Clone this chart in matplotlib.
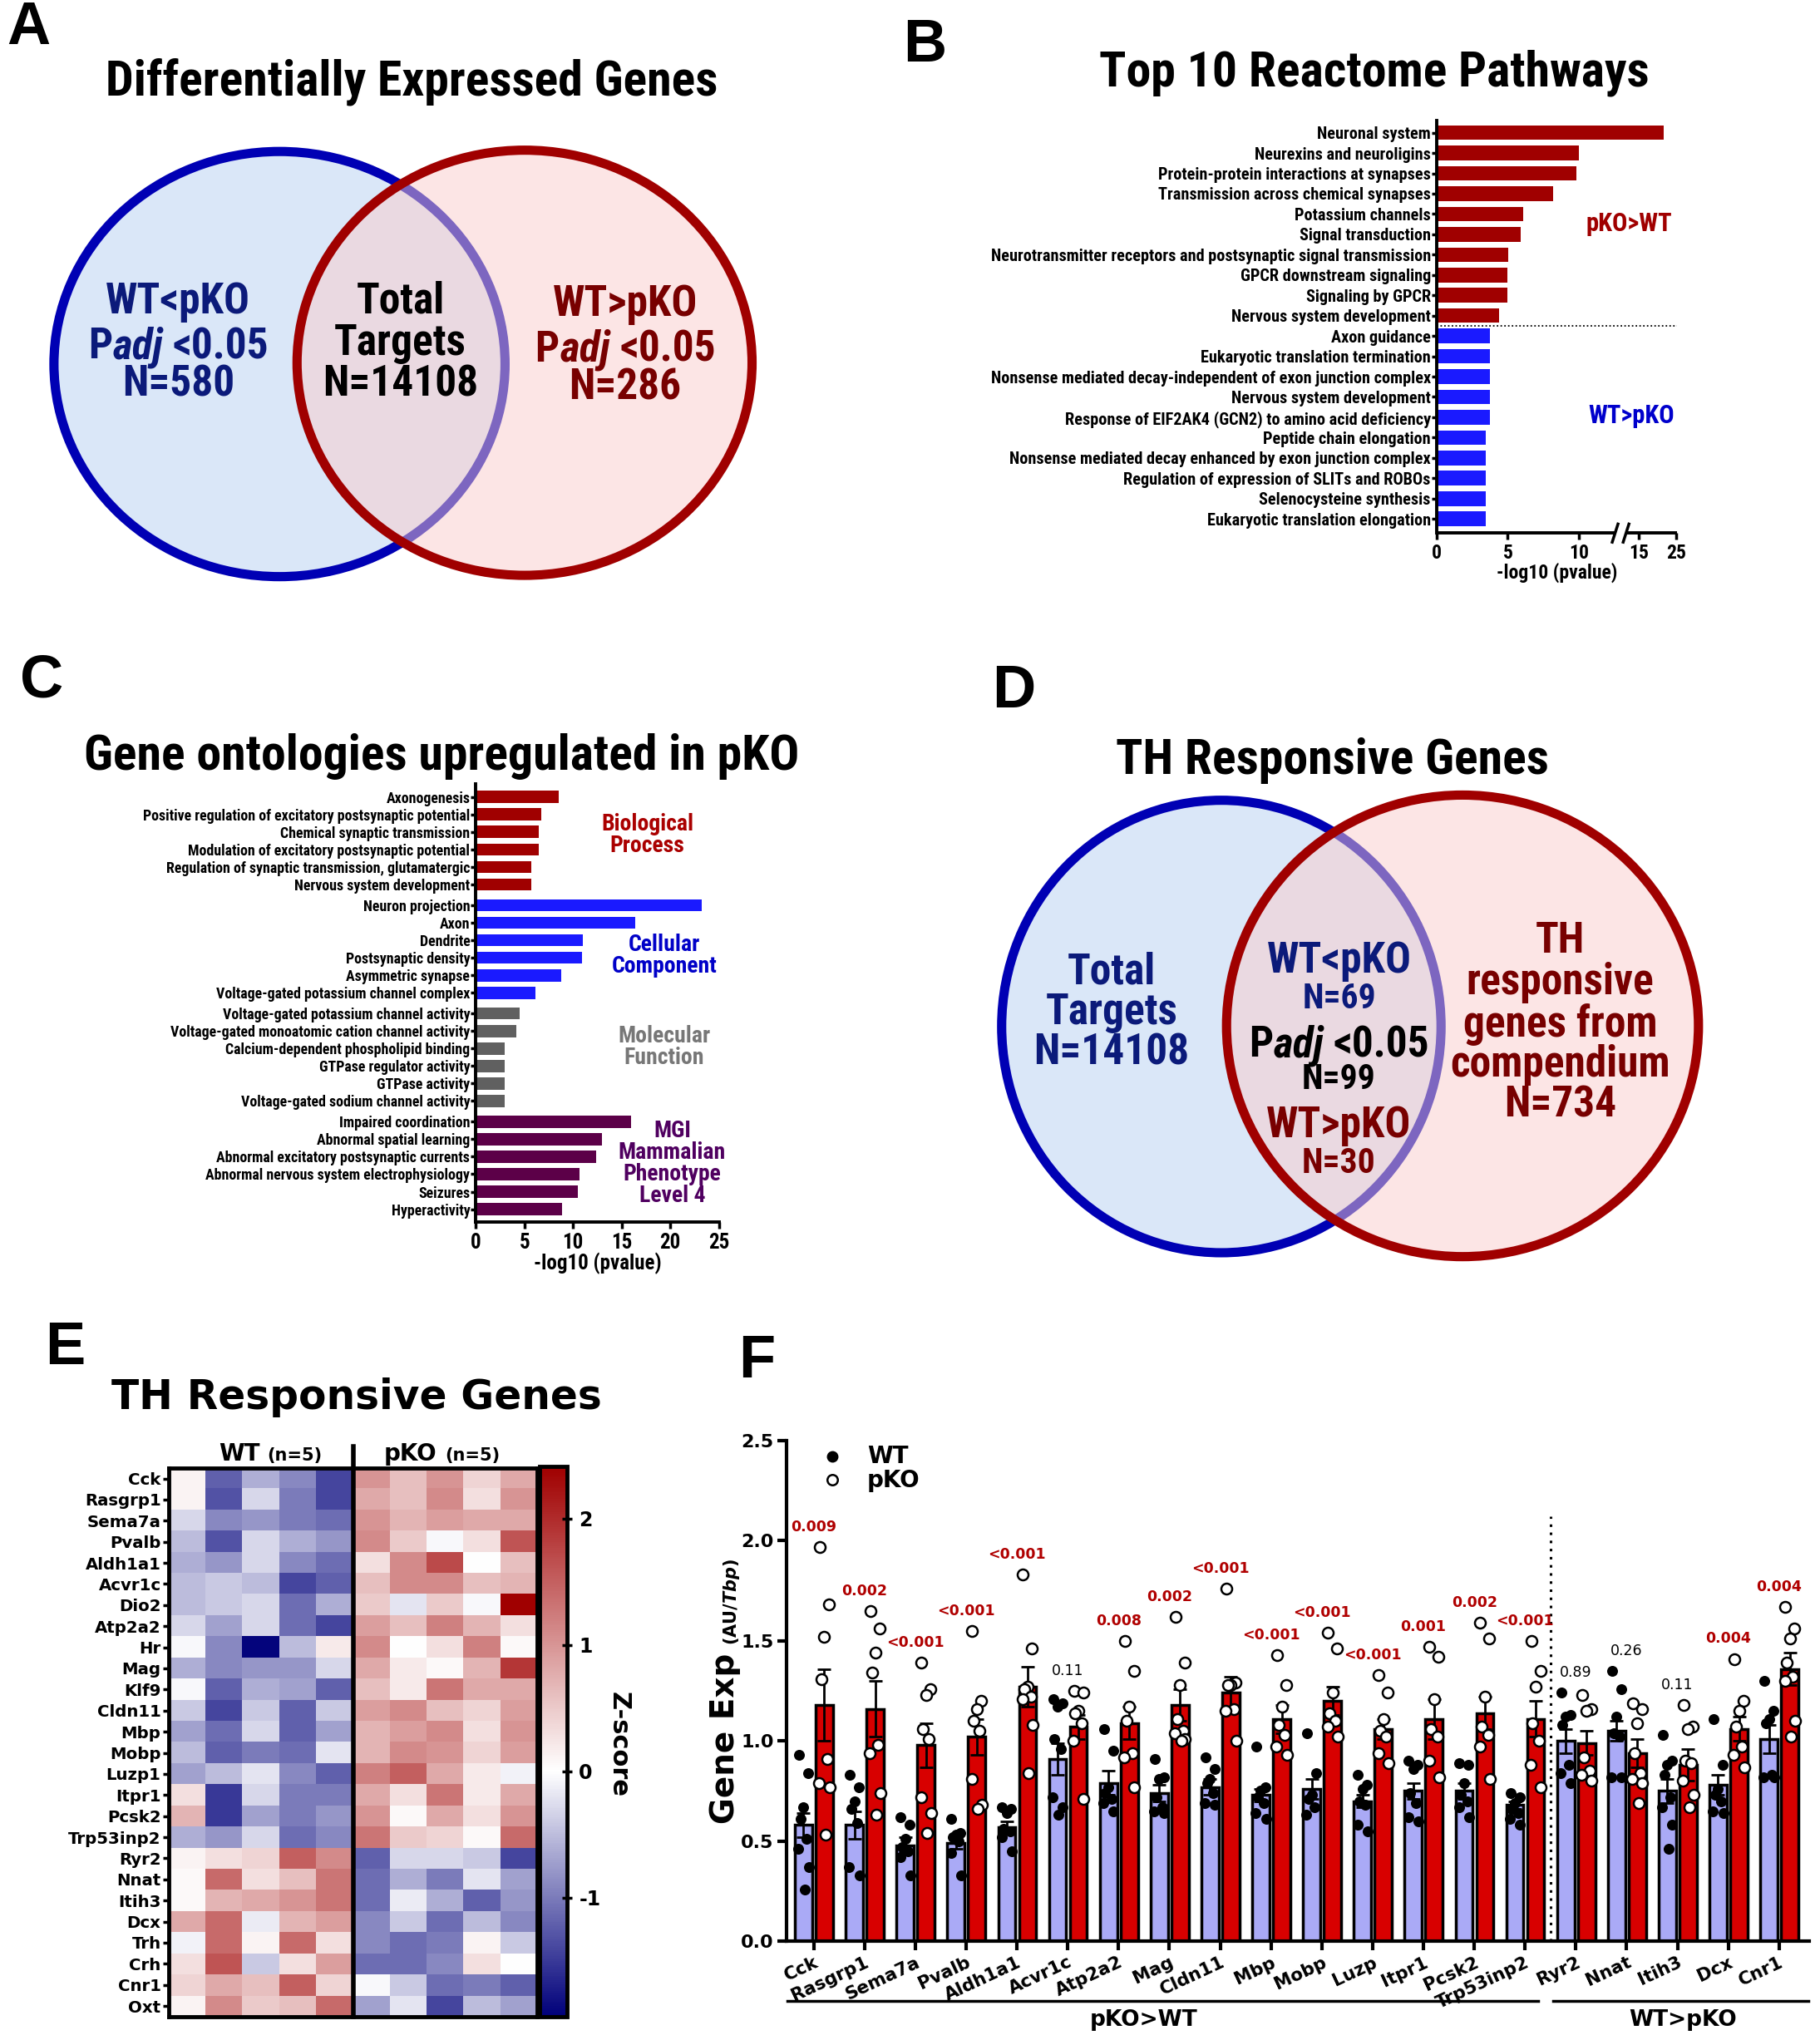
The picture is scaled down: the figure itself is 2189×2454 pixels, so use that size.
import numpy as np
import matplotlib
matplotlib.use('Agg')
import matplotlib.pyplot as plt
from matplotlib.patches import Ellipse
from matplotlib.colors import LinearSegmentedColormap, Normalize
from matplotlib import font_manager as fm

plt.rcParams['axes.unicode_minus'] = False
plt.rcParams['mathtext.fontset'] = 'custom'
plt.rcParams['mathtext.it'] = 'DejaVu Sans:italic:bold'
plt.rcParams['mathtext.rm'] = 'DejaVu Sans:bold'


def pick(cands):
    for c in cands:
        try:
            fm.findfont(fm.FontProperties(family=c), fallback_to_default=False)
            return c
        except Exception:
            pass
    return 'DejaVu Sans'


NARROW = pick(['Liberation Sans Narrow', 'Roboto Condensed', 'DejaVu Sans Condensed'])
ARIAL = pick(['Liberation Sans', 'Arial'])
NS = 1.0
if NARROW == 'DejaVu Sans':
    NARROW = ARIAL
    NS = 0.82
WIDE = 'DejaVu Sans'

# ---------------- data ----------------
# Panel A
deg_up_n = 580
deg_down_n = 286
total_targets_n = 14108
# Panel D
th_compendium_n = 734
th_overlap_n = 99
th_up_n = 69
th_down_n = 30

# Panel B
b_terms = ['Neuronal system', 'Neurexins and neuroligins', 'Protein-protein interactions at synapses',
           'Transmission across chemical synapses', 'Potassium channels', 'Signal transduction',
           'Neurotransmitter receptors and postsynaptic signal transmission', 'GPCR downstream signaling',
           'Signaling by GPCR', 'Nervous system development',
           'Axon guidance', 'Eukaryotic translation termination',
           'Nonsense mediated decay-independent of exon junction complex', 'Nervous system development',
           'Response of EIF2AK4 (GCN2) to amino acid deficiency', 'Peptide chain elongation',
           'Nonsense mediated decay enhanced by exon junction complex',
           'Regulation of expression of SLITs and ROBOs', 'Selenocysteine synthesis',
           'Eukaryotic translation elongation']
b_vals = [21.7, 10.0, 9.8, 8.2, 6.1, 5.9, 5.05, 4.95, 4.95, 4.37,
          3.75, 3.75, 3.75, 3.72, 3.72, 3.48, 3.48, 3.48, 3.48, 3.48]
b_groups = ['pKO>WT'] * 10 + ['WT>pKO'] * 10

# Panel C
c_terms = ['Axonogenesis', 'Positive regulation of excitatory postsynaptic potential',
           'Chemical synaptic transmission', 'Modulation of excitatory postsynaptic potential',
           'Regulation of synaptic transmission, glutamatergic', 'Nervous system development',
           'Neuron projection', 'Axon', 'Dendrite', 'Postsynaptic density', 'Asymmetric synapse',
           'Voltage-gated potassium channel complex',
           'Voltage-gated potassium channel activity', 'Voltage-gated monoatomic cation channel activity',
           'Calcium-dependent phospholipid binding', 'GTPase regulator activity', 'GTPase activity',
           'Voltage-gated sodium channel activity',
           'Impaired coordination', 'Abnormal spatial learning', 'Abnormal excitatory postsynaptic currents',
           'Abnormal nervous system electrophysiology', 'Seizures', 'Hyperactivity']
c_vals = [8.55, 6.7, 6.5, 6.5, 5.7, 5.7,
          23.2, 16.4, 11.0, 10.9, 8.8, 6.1,
          4.5, 4.2, 3.0, 3.0, 3.0, 3.0,
          16.0, 13.0, 12.4, 10.7, 10.5, 8.9]
c_groups = [0] * 6 + [1] * 6 + [2] * 6 + [3] * 6
c_group_names = ['Biological\nProcess', 'Cellular\nComponent', 'Molecular\nFunction',
                 'MGI\nMammalian\nPhenotype\nLevel 4']

# Panel E
e_genes = ['Cck', 'Rasgrp1', 'Sema7a', 'Pvalb', 'Aldh1a1', 'Acvr1c', 'Dio2', 'Atp2a2', 'Hr', 'Mag',
           'Klf9', 'Cldn11', 'Mbp', 'Mobp', 'Luzp1', 'Itpr1', 'Pcsk2', 'Trp53inp2', 'Ryr2', 'Nnat',
           'Itih3', 'Dcx', 'Trh', 'Crh', 'Cnr1', 'Oxt']
z_wt = [
    [0.1, -1.2, -0.6, -0.9, -1.4],
    [0.1, -1.3, -0.3, -1.0, -1.4],
    [-0.3, -0.9, -0.8, -1.0, -1.1],
    [-0.5, -1.3, -0.3, -0.6, -0.8],
    [-0.6, -0.8, -0.3, -0.9, -1.1],
    [-0.5, -0.4, -0.5, -1.4, -1.2],
    [-0.5, -0.4, -0.3, -1.1, -0.6],
    [-0.3, -0.7, -0.3, -1.1, -1.4],
    [-0.05, -0.9, -1.9, -0.5, 0.2],
    [-0.6, -0.9, -0.8, -0.8, -0.3],
    [-0.05, -1.2, -0.6, -0.7, -1.2],
    [-0.4, -1.4, -0.4, -1.2, -0.4],
    [-0.7, -1.1, -0.3, -1.2, -0.7],
    [-0.5, -1.2, -1.0, -1.1, -0.2],
    [-0.7, -0.5, -0.2, -0.9, -1.2],
    [0.3, -1.5, -0.3, -1.0, -1.0],
    [0.7, -1.5, -0.7, -1.0, -0.8],
    [-0.6, -0.8, -0.3, -1.1, -0.9],
    [0.1, 0.3, 0.4, 1.5, 1.1],
    [0.05, 1.4, 0.3, 0.6, 1.3],
    [0.05, 0.7, 0.8, 1.0, 1.3],
    [0.8, 1.4, -0.15, 0.7, 0.9],
    [-0.1, 1.4, 0.1, 1.4, 0.3],
    [0.3, 1.6, -0.4, 0.3, 0.9],
    [0.4, 0.8, 0.6, 1.5, 0.4],
    [0.1, 1.1, 0.5, 0.6, 1.4],
]
z_ko = [
    [1.0, 0.6, 1.0, 0.4, 0.8],
    [0.8, 0.6, 1.1, 0.3, 1.0],
    [1.0, 0.7, 0.9, 0.8, 0.8],
    [1.1, 0.5, -0.05, 0.3, 1.6],
    [0.3, 1.1, 1.7, 0.0, 0.6],
    [0.6, 1.1, 1.1, 0.6, 0.7],
    [0.5, -0.2, 0.5, -0.05, 2.4],
    [0.9, 0.6, 1.2, 0.7, 0.3],
    [1.1, 0.0, 0.3, 1.2, 0.05],
    [0.8, 0.2, 0.05, 0.7, 1.9],
    [0.6, 0.2, 1.3, 0.8, 0.8],
    [0.9, 1.1, 0.6, 0.4, 0.9],
    [0.7, 0.9, 1.1, 0.3, 1.0],
    [0.7, 1.1, 1.0, 0.4, 0.9],
    [1.2, 1.5, 0.8, 0.2, -0.1],
    [0.8, 0.3, 1.3, 0.2, 0.8],
    [1.0, 0.05, 0.8, 0.3, 1.0],
    [1.3, 0.5, 0.4, 0.05, 1.4],
    [-1.2, -0.3, -0.3, -0.4, -1.4],
    [-1.1, -0.6, -1.0, -0.2, -0.7],
    [-1.1, -0.15, -0.6, -1.2, -0.8],
    [-0.9, -0.4, -1.1, -0.5, -0.9],
    [-0.9, -1.1, -1.0, 0.1, -0.4],
    [-1.1, -1.1, -0.9, 0.3, 0.0],
    [-0.05, -0.4, -1.1, -1.0, -1.2],
    [-0.7, -0.2, -1.4, -0.5, -0.7],
]
z_min, z_max = -1.94, 2.41

# Panel F
f_genes = ['Cck', 'Rasgrp1', 'Sema7a', 'Pvalb', 'Aldh1a1', 'Acvr1c', 'Atp2a2', 'Mag', 'Cldn11', 'Mbp',
           'Mobp', 'Luzp', 'Itpr1', 'Pcsk2', 'Trp53inp2', 'Ryr2', 'Nnat', 'Itih3', 'Dcx', 'Cnr1']
wt_mean = [0.58, 0.58, 0.48, 0.49, 0.57, 0.91, 0.79, 0.74, 0.77, 0.73,
           0.76, 0.70, 0.75, 0.75, 0.68, 1.00, 1.05, 0.75, 0.78, 1.01]
wt_sem = [0.06, 0.07, 0.04, 0.03, 0.03, 0.08, 0.06, 0.04, 0.04, 0.03,
          0.05, 0.03, 0.04, 0.04, 0.02, 0.06, 0.05, 0.06, 0.05, 0.07]
ko_mean = [1.18, 1.16, 0.98, 1.02, 1.27, 1.07, 1.09, 1.18, 1.24, 1.11,
           1.20, 1.06, 1.11, 1.14, 1.11, 0.99, 0.94, 0.88, 1.06, 1.36]
ko_sem = [0.18, 0.14, 0.11, 0.09, 0.10, 0.06, 0.08, 0.08, 0.08, 0.07,
          0.07, 0.05, 0.10, 0.08, 0.09, 0.06, 0.07, 0.08, 0.06, 0.08]
wt_pts = [
    [0.93, 0.84, 0.67, 0.61, 0.51, 0.46, 0.37, 0.26],
    [0.83, 0.77, 0.70, 0.66, 0.59, 0.37, 0.33],
    [0.62, 0.58, 0.51, 0.47, 0.45, 0.42, 0.33],
    [0.61, 0.54, 0.53, 0.52, 0.50, 0.44, 0.33],
    [0.67, 0.66, 0.64, 0.56, 0.55, 0.52, 0.45],
    [1.21, 1.19, 1.17, 1.01, 0.96, 0.72, 0.67, 0.63],
    [1.06, 0.95, 0.77, 0.74, 0.71, 0.69, 0.65],
    [0.91, 0.82, 0.81, 0.72, 0.67, 0.65, 0.64],
    [0.92, 0.86, 0.81, 0.79, 0.74, 0.69, 0.68],
    [0.97, 0.77, 0.75, 0.72, 0.69, 0.64, 0.61],
    [1.04, 0.84, 0.73, 0.71, 0.67, 0.63],
    [0.83, 0.78, 0.76, 0.70, 0.68, 0.58, 0.55],
    [0.90, 0.88, 0.86, 0.74, 0.69, 0.62, 0.60],
    [0.89, 0.88, 0.79, 0.73, 0.70, 0.67, 0.62],
    [0.74, 0.72, 0.69, 0.66, 0.64, 0.61, 0.58],
    [1.24, 1.13, 1.12, 1.08, 0.88, 0.84, 0.79],
    [1.35, 1.26, 1.12, 1.04, 1.02, 0.82, 0.82],
    [1.03, 0.90, 0.88, 0.83, 0.72, 0.67, 0.58, 0.46],
    [1.11, 0.88, 0.76, 0.73, 0.70, 0.65, 0.64],
    [1.30, 1.15, 1.11, 1.09, 0.83, 0.82, 0.82],
]
ko_pts = [
    [1.97, 1.68, 1.52, 1.31, 0.91, 0.79, 0.77, 0.53],
    [1.65, 1.56, 1.44, 1.34, 0.98, 0.94, 0.74, 0.63],
    [1.39, 1.26, 1.23, 1.06, 1.01, 0.72, 0.64, 0.54],
    [1.55, 1.20, 1.16, 1.10, 1.05, 0.81, 0.68, 0.66],
    [1.83, 1.46, 1.27, 1.26, 1.22, 1.21, 1.08, 0.84],
    [1.25, 1.24, 1.15, 1.14, 1.09, 1.00, 0.71],
    [1.50, 1.35, 1.17, 1.10, 0.94, 0.92, 0.77],
    [1.62, 1.39, 1.28, 1.11, 1.05, 1.04, 1.01, 1.00],
    [1.76, 1.29, 1.28, 1.28, 1.16, 1.15, 1.00],
    [1.43, 1.28, 1.17, 1.08, 1.03, 0.97, 0.93],
    [1.54, 1.46, 1.24, 1.14, 1.10, 1.07, 1.02],
    [1.33, 1.24, 1.11, 1.05, 1.02, 0.94, 0.89],
    [1.47, 1.42, 1.21, 1.06, 1.02, 0.90, 0.82],
    [1.59, 1.51, 1.22, 1.07, 1.03, 0.97, 0.81],
    [1.50, 1.35, 1.27, 1.09, 1.00, 0.88, 0.77],
    [1.23, 1.16, 1.15, 0.92, 0.85, 0.83, 0.80],
    [1.19, 1.16, 1.09, 0.94, 0.84, 0.81, 0.79, 0.69],
    [1.18, 1.07, 1.06, 0.90, 0.89, 0.80, 0.73, 0.67],
    [1.41, 1.20, 1.15, 1.07, 0.97, 0.93, 0.87],
    [1.67, 1.56, 1.51, 1.39, 1.32, 1.30, 1.10, 1.02],
]
p_labels = ['0.009', '0.002', '<0.001', '<0.001', '<0.001', '0.11', '0.008', '0.002', '<0.001', '<0.001',
            '<0.001', '<0.001', '0.001', '0.002', '<0.001', '0.89', '0.26', '0.11', '0.004', '0.004']
n_up_genes = 15  # pKO>WT group size

# ---------------- colours ----------------
NAVY_T = '#0b1a7a'
DRED_T = '#780000'
BLUE_E = '#0000b4'
RED_E = '#a00000'

# ---------------- figure ----------------
fig = plt.figure(figsize=(21.89, 24.54), dpi=100)
W, H = 1400.0, 1569.0
PX = W / 2189.0


def rect(l, t, r, b):
    return [l / W, 1 - b / H, (r - l) / W, (b - t) / H]


ov = fig.add_axes([0, 0, 1, 1])
ov.set_xlim(0, W)
ov.set_ylim(H, 0)
ov.axis('off')
renderer = fig.canvas.get_renderer()


def rich(x, yb, parts, ha='center', **common):
    """parts: (string, props, gap_before) laid out on one baseline yb."""
    objs, widths, gaps = [], [], []
    for s, kw, g in parts:
        t = ov.text(0, 0, s, ha='left', va='baseline', **{**common, **kw})
        w = t.get_window_extent(renderer=renderer).width * PX
        objs.append(t)
        widths.append(w)
        gaps.append(g)
    total = sum(widths) + sum(gaps[1:])
    cur = x - total / 2 if ha == 'center' else x
    for i, (t, w) in enumerate(zip(objs, widths)):
        if i > 0:
            cur += gaps[i]
        t.set_position((cur, yb))
        cur += w


# panel letters
for lab, x, y in [('A', 22, 22), ('B', 711, 35), ('C', 32, 524), ('D', 780, 532), ('E', 50, 1037),
                  ('F', 582, 1047)]:
    ov.text(x, y, lab, fontsize=52, fontweight='bold', family=ARIAL, ha='center', va='center')

TS = 43 * NS
ttl = dict(fontsize=TS, fontweight='bold', family=NARROW, ha='center', va='center')
ov.text(317, 63, 'Differentially Expressed Genes', **ttl)
ov.text(1057, 56, 'Top 10 Reactome Pathways', **ttl)
ov.text(340, 582, 'Gene ontologies upregulated in pKO', **ttl)
ov.text(1025, 585, 'TH Responsive Genes', **ttl)
ov.text(274, 1075, 'TH Responsive Genes', fontsize=35, fontweight='bold', family=WIDE, ha='center',
        va='center')


def venn(cl, wl, hl, cr, wr, hr):
    ov.add_patch(Ellipse(cl, wl, hl, facecolor='#dae7f8', edgecolor=BLUE_E, lw=8, zorder=1))
    ov.add_patch(Ellipse(cr, wr, hr, facecolor=(0.98, 0.80, 0.80, 0.5), edgecolor='none', zorder=2))
    ov.add_patch(Ellipse(cr, wr, hr, facecolor='none', edgecolor=RED_E, lw=8, zorder=3))


VS = 37 * NS
vt = dict(fontsize=VS, fontweight='bold', family=NARROW, ha='center', va='center', zorder=5)


def padj(x, yc, color):
    rich(x, yc + 0.32 * VS, [('P', {}, 0), ('adj', {'fontstyle': 'italic'}, 0.5), ('<0.05', {}, 7)],
         fontsize=VS, fontweight='bold', family=NARROW, color=color, zorder=5)


# Panel A venn
venn((215, 280), 347, 327, (403.5, 279), 350, 327)
ov.text(137, 232, 'WT<pKO', color=NAVY_T, **vt)
padj(137, 264, NAVY_T)
ov.text(137, 296, f'N={deg_up_n}', color=NAVY_T, **vt)
ov.text(308, 232, 'Total', color='k', **vt)
ov.text(308, 264, 'Targets', color='k', **vt)
ov.text(308, 296, f'N={total_targets_n}', color='k', **vt)
ov.text(481, 234, 'WT>pKO', color=DRED_T, **vt)
padj(481, 266, DRED_T)
ov.text(481, 298, f'N={deg_down_n}', color=DRED_T, **vt)

# Panel D venn
venn((939.5, 789.5), 338, 348, (1125, 789), 363, 355)
ov.text(855, 748, 'Total', color=NAVY_T, **vt)
ov.text(855, 779, 'Targets', color=NAVY_T, **vt)
ov.text(855, 810, f'N={total_targets_n}', color=NAVY_T, **vt)
vs2 = dict(vt)
vs2['fontsize'] = 30 * NS
ov.text(1030, 739, 'WT<pKO', color=NAVY_T, **vt)
ov.text(1030, 768, f'N={th_up_n}', color=NAVY_T, **vs2)
padj(1030, 801, 'k')
ov.text(1030, 830, f'N={th_overlap_n}', color='k', **vs2)
ov.text(1030, 866, 'WT>pKO', color=DRED_T, **vt)
ov.text(1030, 895, f'N={th_down_n}', color=DRED_T, **vs2)
for yy, s in zip([724, 756, 788, 819, 850],
                 ['TH', 'responsive', 'genes from', 'compendium', f'N={th_compendium_n}']):
    ov.text(1200, yy, s, color=DRED_T, **vt)

# ---------------- Panel B ----------------
axb = fig.add_axes(rect(1105, 93, 1290, 410), facecolor='none')
kx = np.array([-100.0, 0.0, 12.5, 15.0, 25.0, 100.0])
ku = np.array([-100.0, 0.0, 12.5, 14.2, 16.8, 16.8 + 75 * 0.26])


def fwd(x):
    return np.interp(x, kx, ku)


def inv(u):
    return np.interp(u, ku, kx)


axb.set_xscale('function', functions=(fwd, inv))
yb = np.arange(len(b_terms))
colb = ['#a00000' if g == 'pKO>WT' else '#1a1aff' for g in b_groups]
axb.barh(yb, b_vals, height=0.72, color=colb, zorder=2)
axb.set_xlim(0, 25.3)
axb.set_ylim(19.7, -0.58)
axb.set_yticks(yb)
axb.set_yticklabels(b_terms, fontsize=14.6 * NS, fontweight='bold', family=NARROW)
axb.set_xticks([0, 5, 10, 15, 25])
axb.set_xticklabels(['0', '5', '10', '15', '25'], fontsize=17 * NS, fontweight='bold', family=NARROW)
axb.set_xlabel('-log10 (pvalue)', fontsize=17 * NS, fontweight='bold', family=NARROW, labelpad=0)
for s in ['top', 'right', 'bottom']:
    axb.spines[s].set_visible(False)
axb.spines['left'].set_linewidth(2.8)
axb.tick_params(axis='y', length=4, width=2.5, pad=1)
axb.tick_params(axis='x', length=6, width=2.5, pad=3)
axb.axhline(9.5, color='k', lw=1.3, ls=(0, (1, 1.5)), xmin=0, xmax=1.0, clip_on=False)
tr = axb.get_xaxis_transform()
axb.plot([0, 12.55], [0, 0], color='k', lw=2.8, transform=tr, clip_on=False, solid_capstyle='butt')
axb.plot([13.68, 25.3], [0, 0], color='k', lw=2.8, transform=tr, clip_on=False, solid_capstyle='butt')
u0, u1 = fwd(0), fwd(25.3)
for xb in [12.55, 13.68]:
    xfr = (fwd(xb) - u0) / (u1 - u0)
    axb.plot([xfr - 0.012, xfr + 0.012], [-0.022, 0.022], color='k', lw=2.5, transform=axb.transAxes,
             clip_on=False)
ov.text(1253, 172, 'pKO>WT', color='#a00000', fontsize=22 * NS, fontweight='bold', family=NARROW,
        ha='center', va='center')
ov.text(1255, 320, 'WT>pKO', color='#0000cc', fontsize=22 * NS, fontweight='bold', family=NARROW,
        ha='center', va='center')

# ---------------- Panel C ----------------
axc = fig.add_axes(rect(366, 603, 553, 940), facecolor='none')
yc = np.arange(len(c_terms)) + np.array(c_groups) * 0.18
c_bar_cols = ['#a00000', '#1a1aff', '#606060', '#5c0048']
axc.barh(yc, c_vals, height=0.7, color=[c_bar_cols[g] for g in c_groups], zorder=2)
axc.set_xlim(0, 25)
axc.set_ylim(yc[-1] + 0.74, -0.74)
axc.set_yticks(yc)
axc.set_yticklabels(c_terms, fontsize=12.9 * NS, fontweight='bold', family=NARROW)
axc.set_xticks([0, 5, 10, 15, 20, 25])
axc.set_xticklabels(['0', '5', '10', '15', '20', '25'], fontsize=18 * NS, fontweight='bold', family=NARROW)
axc.set_xlabel('-log10 (pvalue)', fontsize=18 * NS, fontweight='bold', family=NARROW, labelpad=0)
for s in ['top', 'right']:
    axc.spines[s].set_visible(False)
for s in ['left', 'bottom']:
    axc.spines[s].set_linewidth(2.8)
axc.tick_params(axis='y', length=4, width=2.5, pad=1)
axc.tick_params(axis='x', length=6, width=2.5, pad=3)
c_lab_cols = ['#aa0000', '#0000c8', '#777777', '#500060']
c_lab_pos = [(498, 642), (511, 735), (511, 805), (517, 895)]
for name, col, (x, y) in zip(c_group_names, c_lab_cols, c_lab_pos):
    ov.text(x, y, name, color=col, fontsize=20 * NS, fontweight='bold', family=NARROW, ha='center',
            va='center', linespacing=0.95)

# ---------------- Panel E ----------------
axe = fig.add_axes(rect(130, 1129, 413, 1551), facecolor='none')
Z = np.hstack([np.array(z_wt), np.array(z_ko)])
cmap = LinearSegmentedColormap.from_list(
    'z', [(0.0, '#00007a'), (-z_min / (z_max - z_min), '#ffffff'), (1.0, '#a00000')])
im = axe.imshow(Z, cmap=cmap, norm=Normalize(z_min, z_max), aspect='auto', interpolation='nearest')
axe.plot([4.5, 4.5], [len(e_genes) - 0.5, -1.5], color='k', lw=4, clip_on=False)
axe.set_xlim(-0.5, Z.shape[1] - 0.5)
axe.set_ylim(len(e_genes) - 0.5, -0.5)
axe.set_xticks([])
axe.set_yticks(np.arange(len(e_genes)))
axe.set_yticklabels(e_genes, fontsize=14.2, fontweight='bold', family=WIDE)
axe.tick_params(axis='y', length=5, width=2.5, pad=2)
for s in axe.spines.values():
    s.set_linewidth(3.5)
cax = fig.add_axes(rect(415, 1128, 436, 1551))
cb = fig.colorbar(im, cax=cax, ticks=[-1, 0, 1, 2])
cb.outline.set_linewidth(3.5)
cax.tick_params(labelsize=17, width=2.5, length=9, direction='inout', pad=6)
for t in cax.get_yticklabels():
    t.set_fontweight('bold')
    t.set_family(WIDE)
ov.text(476, 1342, 'Z-score', rotation=270, fontsize=22, fontweight='bold', family=WIDE, ha='center',
        va='center')
rich(208, 1117 + 0.32 * 20, [('WT', {'fontsize': 20}, 0), ('(n=5)', {'fontsize': 15}, 6)],
     fontweight='bold', family=WIDE)
rich(340, 1117 + 0.32 * 20, [('pKO', {'fontsize': 20}, 0), ('(n=5)', {'fontsize': 15}, 6)],
     fontweight='bold', family=WIDE)

# ---------------- Panel F ----------------
axf = fig.add_axes(rect(605, 1108, 1392, 1493), facecolor='none')
xf = np.arange(len(f_genes))
bw = 0.34
dx_wt, dx_ko = -0.2, 0.21
axf.bar(xf + dx_wt, wt_mean, width=bw, color='#aaaaf6', edgecolor='k', linewidth=2.5, zorder=2)
axf.bar(xf + dx_ko, ko_mean, width=bw, color='#d80000', edgecolor='k', linewidth=2.5, zorder=2)
axf.errorbar(xf + dx_wt, wt_mean, yerr=wt_sem, fmt='none', ecolor='k', elinewidth=2, capsize=6, capthick=2,
             zorder=3)
axf.errorbar(xf + dx_ko, ko_mean, yerr=ko_sem, fmt='none', ecolor='k', elinewidth=2, capsize=6, capthick=2,
             zorder=3)
jit = np.array([-0.09, 0.09, 0.0, -0.06, 0.06, -0.1, 0.1, 0.02])
for i in range(len(f_genes)):
    w = np.array(wt_pts[i])
    k = np.array(ko_pts[i])
    axf.scatter(i + dx_wt + jit[:len(w)], w, s=88, color='k', zorder=4, linewidths=0)
    axf.scatter(i + dx_ko + jit[:len(k)], k, s=88, facecolor='white', edgecolor='k', linewidths=1.8,
                zorder=4)
    sig = not (p_labels[i][0].isdigit() and float(p_labels[i]) >= 0.05)
    top = max(w.max(), k.max()) + 0.1
    axf.text(i, top, p_labels[i], ha='center', va='center', fontsize=12.5, family=WIDE,
             fontweight='bold' if sig else 'normal', color='#b00000' if sig else 'k', zorder=5)
axf.set_xlim(-0.535, 19.6)
axf.set_ylim(0, 2.5)
axf.set_yticks([0, 0.5, 1.0, 1.5, 2.0, 2.5])
axf.set_yticklabels(['0.0', '0.5', '1.0', '1.5', '2.0', '2.5'], fontsize=16, fontweight='bold', family=WIDE)
axf.set_xticks(xf)
axf.set_xticklabels(f_genes, rotation=25, ha='right', rotation_mode='anchor', fontsize=15.5,
                    fontweight='bold', family=WIDE)
for s in ['top', 'right']:
    axf.spines[s].set_visible(False)
for s in ['left', 'bottom']:
    axf.spines[s].set_linewidth(3)
axf.tick_params(axis='both', length=8, width=3, pad=3)
axf.plot([n_up_genes - 0.5] * 2, [0, 2.12], color='k', lw=2.2, ls=(0, (1, 2.2)), zorder=1)
trf = axf.get_xaxis_transform()
axf.plot([-0.52, n_up_genes - 0.74], [-0.12, -0.12], color='k', lw=2.5, transform=trf, clip_on=False)
axf.plot([n_up_genes - 0.44, 19.57], [-0.12, -0.12], color='k', lw=2.5, transform=trf, clip_on=False)
axf.text(6.5, -0.157, 'pKO>WT', transform=trf, ha='center', va='center', fontsize=19, fontweight='bold',
         family=WIDE)
axf.text(17.1, -0.157, 'WT>pKO', transform=trf, ha='center', va='center', fontsize=19, fontweight='bold',
         family=WIDE)
# legend
ov.plot([640], [1120], 'o', color='k', ms=9)
ov.plot([640], [1138], 'o', mfc='white', mec='k', mew=1.8, ms=9)
ov.text(667, 1120, 'WT', fontsize=20, fontweight='bold', family=WIDE, ha='left', va='center')
ov.text(667, 1139, 'pKO', fontsize=20, fontweight='bold', family=WIDE, ha='left', va='center')
# y label
ov.text(558, 1337, 'Gene Exp', rotation=90, fontsize=28, fontweight='bold', family=WIDE, ha='center',
        va='center')
ov.text(563, 1232, r'(AU/$\mathit{Tbp}$)', rotation=90, fontsize=15, fontweight='bold', family=WIDE,
        ha='center', va='center')

fig.savefig('out.png', dpi=100)
